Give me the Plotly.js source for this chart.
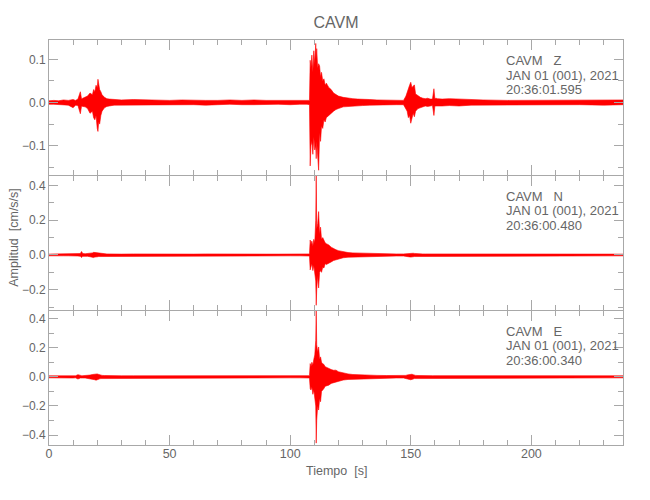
<!DOCTYPE html>
<html>
<head>
<meta charset="utf-8">
<script src="https://cdn.plot.ly/plotly-3.0.1.min.js"></script>
<style>html,body{margin:0;padding:0;background:#fff;}</style>
</head>
<body>
<div id="chart" style="width:650px;height:500px;"></div>
<script>
// Time samples (s) of the envelope
const timeS = [0,2,4,6,8,10,11,12,13,13.5,14,15,16,17,18,18.5,19,19.5,20,20.3,20.6,21,21.5,22,23,24,25,27,30,35,40,45,50,55,60,65,70,75,80,85,90,95,100,104,107,108,108.3,108.6,109,109.4,109.8,110.2,110.6,110.8,111.0,111.4,111.8,112.2,112.6,113,113.5,114,114.5,115,116,117,118,119,120,122,124,126,128,130,133,136,140,144,147,148,148.5,149,149.5,150,150.5,151,151.5,152,153,154,155,156,157,158,159,159.6,160,160.5,161,163,166,170,175,180,190,200,210,220,230,238];

// Z component: upper and lower envelope (cm/s/s)
const zUpper = [0.004,0.005,0.004,0.006,0.005,0.007,0.005,0.008,0.025,0.008,0.010,0.012,0.015,0.022,0.018,0.030,0.025,0.040,0.035,0.054,0.045,0.030,0.025,0.018,0.012,0.009,0.008,0.007,0.006,0.007,0.006,0.006,0.005,0.006,0.005,0.005,0.005,0.006,0.005,0.006,0.005,0.005,0.004,0.004,0.004,0.005,0.098,0.080,0.110,0.070,0.120,0.090,0.137,0.100,0.125,0.080,0.090,0.085,0.060,0.070,0.050,0.055,0.040,0.045,0.035,0.030,0.022,0.018,0.015,0.012,0.010,0.009,0.008,0.007,0.007,0.006,0.006,0.005,0.005,0.015,0.025,0.030,0.040,0.047,0.035,0.038,0.041,0.020,0.015,0.012,0.010,0.009,0.010,0.008,0.008,0.032,0.009,0.010,0.009,0.008,0.009,0.008,0.006,0.006,0.005,0.005,0.005,0.006,0.006,0.006];
const zLower = [-0.004,-0.004,-0.005,-0.005,-0.006,-0.012,-0.006,-0.007,-0.026,-0.008,-0.009,-0.010,-0.014,-0.025,-0.020,-0.035,-0.040,-0.030,-0.060,-0.067,-0.045,-0.050,-0.030,-0.020,-0.012,-0.009,-0.008,-0.006,-0.006,-0.006,-0.005,-0.006,-0.005,-0.005,-0.005,-0.006,-0.005,-0.004,-0.005,-0.005,-0.005,-0.004,-0.005,-0.004,-0.004,-0.005,-0.147,-0.100,-0.090,-0.120,-0.080,-0.110,-0.100,-0.130,-0.090,-0.120,-0.157,-0.070,-0.090,-0.055,-0.060,-0.040,-0.045,-0.035,-0.032,-0.025,-0.020,-0.016,-0.014,-0.010,-0.009,-0.008,-0.008,-0.007,-0.006,-0.006,-0.005,-0.005,-0.005,-0.015,-0.020,-0.035,-0.030,-0.048,-0.040,-0.025,-0.033,-0.020,-0.014,-0.012,-0.010,-0.008,-0.009,-0.008,-0.007,-0.030,-0.008,-0.009,-0.008,-0.008,-0.007,-0.008,-0.006,-0.005,-0.005,-0.005,-0.005,-0.005,-0.006,-0.005];

// N component
const nUpper = [0.005,0.005,0.005,0.006,0.005,0.006,0.005,0.006,0.008,0.020,0.008,0.007,0.008,0.010,0.012,0.015,0.014,0.012,0.010,0.010,0.009,0.008,0.008,0.007,0.007,0.006,0.006,0.005,0.005,0.006,0.005,0.005,0.006,0.005,0.005,0.006,0.005,0.005,0.005,0.006,0.005,0.005,0.005,0.005,0.005,0.006,0.086,0.060,0.080,0.050,0.090,0.070,0.200,0.470,0.150,0.180,0.250,0.120,0.160,0.090,0.100,0.080,0.070,0.065,0.058,0.045,0.035,0.030,0.025,0.018,0.014,0.012,0.011,0.010,0.009,0.008,0.007,0.006,0.006,0.007,0.008,0.010,0.012,0.012,0.012,0.010,0.009,0.008,0.007,0.007,0.006,0.006,0.006,0.006,0.006,0.006,0.006,0.006,0.006,0.006,0.006,0.006,0.005,0.005,0.005,0.005,0.005,0.005,0.005,0.005];
const nLower = [-0.005,-0.005,-0.005,-0.005,-0.005,-0.006,-0.005,-0.006,-0.008,-0.015,-0.008,-0.007,-0.008,-0.010,-0.012,-0.015,-0.012,-0.012,-0.010,-0.010,-0.009,-0.008,-0.008,-0.007,-0.007,-0.006,-0.006,-0.005,-0.005,-0.005,-0.005,-0.006,-0.005,-0.005,-0.005,-0.005,-0.006,-0.005,-0.005,-0.005,-0.005,-0.005,-0.005,-0.005,-0.005,-0.006,-0.086,-0.070,-0.050,-0.090,-0.060,-0.100,-0.150,-0.290,-0.200,-0.120,-0.190,-0.100,-0.090,-0.100,-0.070,-0.075,-0.050,-0.055,-0.048,-0.040,-0.032,-0.028,-0.022,-0.016,-0.013,-0.011,-0.010,-0.009,-0.009,-0.008,-0.007,-0.006,-0.006,-0.007,-0.008,-0.010,-0.011,-0.012,-0.012,-0.010,-0.009,-0.008,-0.007,-0.007,-0.006,-0.006,-0.006,-0.006,-0.006,-0.006,-0.006,-0.006,-0.006,-0.006,-0.006,-0.006,-0.005,-0.005,-0.005,-0.005,-0.005,-0.005,-0.005,-0.005];

// E component
const eUpper = [0.007,0.007,0.006,0.007,0.007,0.008,0.007,0.015,0.008,0.008,0.008,0.008,0.009,0.012,0.016,0.018,0.020,0.022,0.020,0.018,0.016,0.014,0.012,0.010,0.009,0.008,0.008,0.007,0.007,0.007,0.007,0.007,0.007,0.007,0.007,0.007,0.007,0.007,0.007,0.007,0.007,0.007,0.007,0.007,0.007,0.008,0.091,0.070,0.100,0.080,0.120,0.150,0.250,0.460,0.220,0.170,0.205,0.120,0.137,0.100,0.090,0.085,0.070,0.065,0.057,0.050,0.045,0.046,0.035,0.025,0.020,0.016,0.014,0.012,0.011,0.010,0.009,0.008,0.008,0.010,0.013,0.015,0.018,0.020,0.018,0.015,0.012,0.010,0.009,0.008,0.008,0.008,0.008,0.008,0.008,0.008,0.008,0.008,0.008,0.008,0.008,0.008,0.007,0.007,0.007,0.007,0.007,0.007,0.007,0.007];
const eLower = [-0.007,-0.006,-0.007,-0.007,-0.007,-0.008,-0.007,-0.015,-0.008,-0.008,-0.008,-0.008,-0.009,-0.012,-0.016,-0.018,-0.020,-0.023,-0.020,-0.018,-0.016,-0.014,-0.012,-0.010,-0.009,-0.008,-0.008,-0.007,-0.007,-0.007,-0.007,-0.007,-0.007,-0.007,-0.007,-0.007,-0.007,-0.007,-0.007,-0.007,-0.007,-0.007,-0.007,-0.007,-0.007,-0.008,-0.080,-0.090,-0.070,-0.120,-0.090,-0.130,-0.200,-0.455,-0.300,-0.200,-0.228,-0.150,-0.171,-0.100,-0.090,-0.080,-0.065,-0.060,-0.057,-0.045,-0.040,-0.035,-0.030,-0.022,-0.018,-0.016,-0.014,-0.012,-0.011,-0.010,-0.009,-0.008,-0.008,-0.010,-0.013,-0.015,-0.018,-0.020,-0.018,-0.015,-0.012,-0.010,-0.009,-0.008,-0.008,-0.008,-0.008,-0.008,-0.008,-0.008,-0.008,-0.008,-0.008,-0.008,-0.008,-0.008,-0.007,-0.007,-0.007,-0.007,-0.007,-0.007,-0.007,-0.007];

// Header lines of each panel (station + component, date, start time)
const stationLines = ["CAVM\u00a0\u00a0\u00a0Z", "CAVM\u00a0\u00a0\u00a0N", "CAVM\u00a0\u00a0\u00a0E"];
const dateLines = ["JAN 01 (001), 2021", "JAN 01 (001), 2021", "JAN 01 (001), 2021"];
const timeLines = ["20:36:01.595", "20:36:00.480", "20:36:00.340"];

const FONT = "'Liberation Sans', Arial, sans-serif";
const AX = '#a8a8a8';
const TXT = '#666666';
const RED = '#ff0000';

function band(up, lo, xa, ya) {
  const xs = timeS.concat(timeS.slice().reverse());
  const ys = up.concat(lo.slice().reverse());
  return {x: xs, y: ys, xaxis: xa, yaxis: ya, type: 'scatter', mode: 'lines',
    fill: 'toself', fillcolor: RED, line: {color: RED, width: 0.6}, hoverinfo: 'skip'};
}

const data = [
  band(zUpper, zLower, 'x3', 'y3'),
  band(nUpper, nLower, 'x2', 'y2'),
  band(eUpper, eLower, 'x', 'y')
];

function xax(anchor, labels) {
  return {anchor: anchor, domain: [0, 1], range: [0, 238], tick0: 0, dtick: 50,
    ticks: 'inside', ticklen: 10, tickcolor: AX, tickwidth: 1,
    showline: true, linecolor: AX, linewidth: 1, mirror: 'allticks',
    showgrid: false, zeroline: false, showticklabels: labels, ticklabelstandoff: -3,
    tickfont: {family: FONT, size: 12.5, color: TXT},
    minor: {dtick: 10, tick0: 0, ticks: 'inside', ticklen: 5, tickcolor: AX, showgrid: false}};
}
function yax(anchor, dom, rng, dt, mdt) {
  return {anchor: anchor, domain: dom, range: rng, tick0: 0, dtick: dt, tickformat: '.1f',
    ticks: 'inside', ticklen: 9, tickcolor: AX, tickwidth: 1,
    showline: true, linecolor: AX, linewidth: 1, mirror: 'allticks',
    showgrid: false, zeroline: false,
    tickfont: {family: FONT, size: 12, color: TXT},
    minor: {dtick: mdt, tick0: 0, ticks: 'inside', ticklen: 5, tickcolor: AX, showgrid: false}};
}

const annotations = [];
const doms = ['y3 domain', 'y2 domain', 'y domain'];
const lineY = [0.846, 0.739, 0.632];
for (let i = 0; i < 3; i++) {
  [stationLines[i], dateLines[i], timeLines[i]].forEach(function (t, k) {
    annotations.push({text: t, xref: 'paper', yref: doms[i],
      x: 0.793, y: lineY[k], xanchor: 'left', yanchor: 'middle', align: 'left', showarrow: false,
      font: {family: FONT, size: 13, color: TXT}});
  });
}
annotations.push({text: 'Amplitud  [cm/s/s]', xref: 'paper', yref: 'paper', x: -0.061, y: 0.514,
  textangle: -90, showarrow: false, xanchor: 'center', yanchor: 'middle',
  font: {family: FONT, size: 12.5, color: TXT}});
annotations.push({text: 'Tiempo  [s]', xref: 'paper', yref: 'paper', x: 0.5, y: -0.064,
  showarrow: false, xanchor: 'center', yanchor: 'middle',
  font: {family: FONT, size: 12.5, color: TXT}});

const PX = 1 / 405;
const layout = {
  width: 650, height: 500,
  margin: {l: 49, r: 27, t: 40, b: 55},
  paper_bgcolor: '#ffffff', plot_bgcolor: '#ffffff',
  showlegend: false,
  title: {text: 'CAVM', x: 0.5, xref: 'paper', y: 0.956, yref: 'container', yanchor: 'middle',
    font: {family: FONT, size: 16, color: TXT}},
  xaxis: xax('y', true),
  xaxis2: xax('y2', false),
  xaxis3: xax('y3', false),
  yaxis: yax('x', [0, 1/3 - PX], [-0.468, 0.452], 0.2, 0.1),
  yaxis2: yax('x2', [1/3, 2/3 - PX], [-0.317, 0.455], 0.2, 0.1),
  yaxis3: yax('x3', [2/3, 1], [-0.168, 0.145], 0.1, 0.05),
  annotations: annotations
};

Plotly.newPlot('chart', data, layout, {displayModeBar: false, staticPlot: true});
</script>
</body>
</html>
